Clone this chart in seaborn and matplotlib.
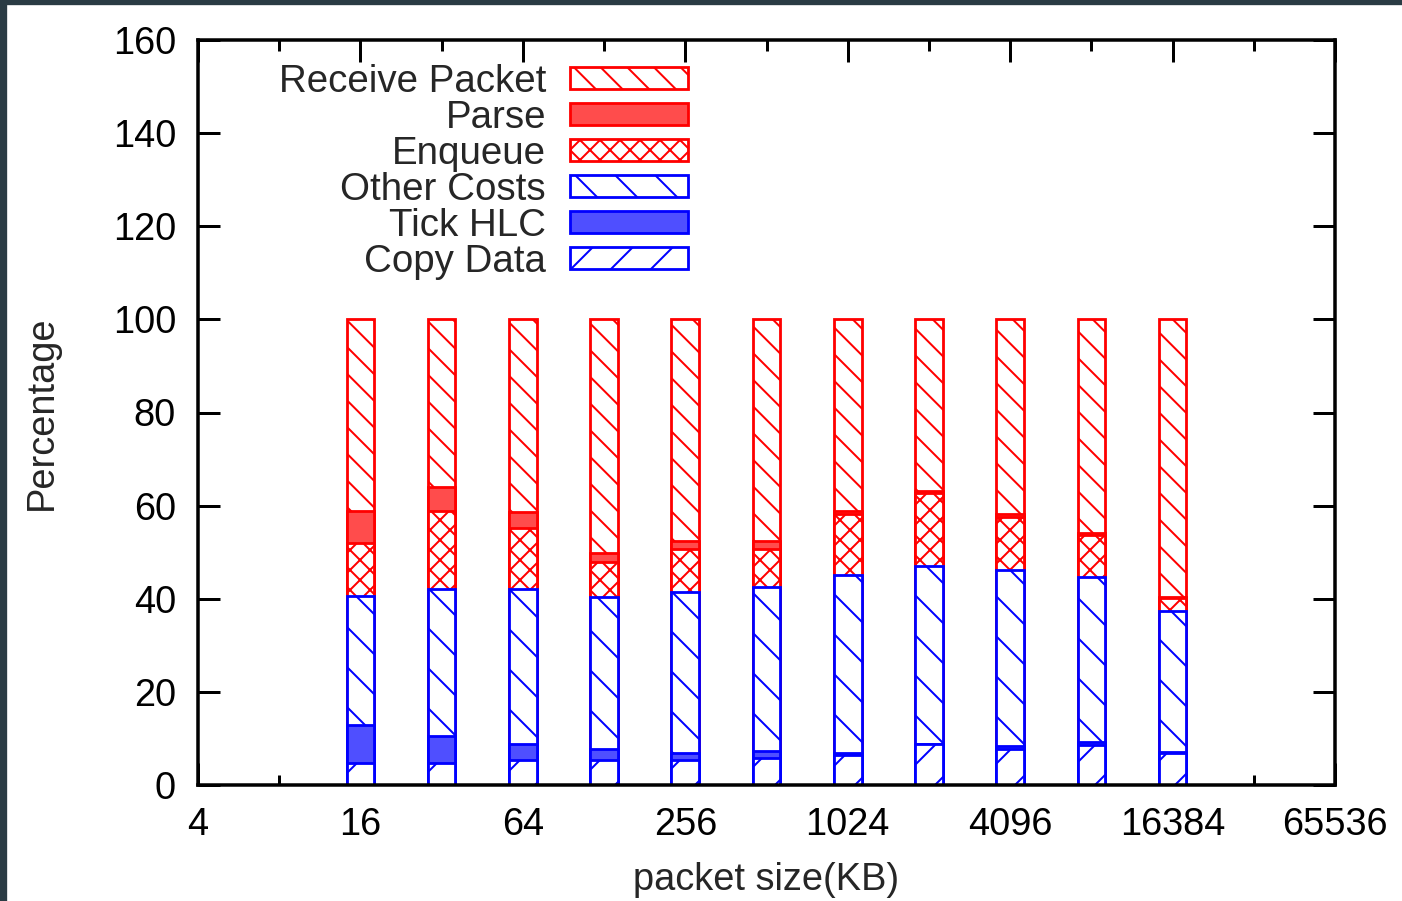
import numpy as np
import pandas as pd
import matplotlib
matplotlib.use("Agg")
import matplotlib.pyplot as plt
from matplotlib.patches import Rectangle
import seaborn as sns

# ---- data (percentages) ----
sizes = [16, 32, 64, 128, 256, 512, 1024, 2048, 4096, 8192, 16384]
copy_data = [4.8, 4.8, 5.4, 5.4, 5.4, 5.9, 6.4, 8.7, 7.7, 8.5, 6.8]
tick_hlc = [8.0, 5.7, 3.3, 2.4, 1.4, 1.5, 0.4, 0.2, 0.7, 0.7, 0.2]
other_costs = [27.8, 31.5, 33.3, 32.5, 34.7, 35.2, 38.4, 38.1, 37.8, 35.5, 30.4]
enqueue = [11.4, 16.9, 13.3, 7.6, 9.2, 8.1, 12.9, 15.8, 11.4, 9.0, 2.7]
parse = [6.9, 5.2, 3.3, 2.0, 1.6, 1.6, 0.8, 0.4, 0.6, 0.4, 0.2]
receive_packet = [41.1, 35.9, 41.4, 50.1, 47.7, 47.7, 41.1, 36.8, 41.8, 45.9, 59.7]

x_major = [4, 16, 64, 256, 1024, 4096, 16384, 65536]
x_minor = [8, 32, 128, 512, 2048, 8192, 32768]
y_ticks = [0, 20, 40, 60, 80, 100, 120, 140, 160]

DPI = 240
W, H = 1402, 901


def pt(px):
    return px * 72.0 / DPI


sns.set_theme(style="ticks")
plt.rcParams["font.family"] = ["Liberation Sans", "DejaVu Sans"]
plt.rcParams["hatch.linewidth"] = pt(2.0)

fig = plt.figure(figsize=(W / DPI, H / DPI), dpi=DPI)
fig.patch.set_facecolor("white")
ax = fig.add_axes([198 / W, 1 - 785 / H, (1335 - 198) / W, (785 - 40) / H])
ax.set_facecolor("white")
ax.set_xscale("log", base=2)

# layers bottom -> top
layers = [
    ("Copy Data", copy_data, "white", "#0000ff", "//"),
    ("Tick HLC", tick_hlc, "#4f4fff", "#0000ff", None),
    ("Other Costs", other_costs, "white", "#0000ff", "\\\\"),
    ("Enqueue", enqueue, "white", "#ff0000", "xxxx"),
    ("Parse", parse, "#ff4c4c", "#ff0000", None),
    ("Receive Packet", receive_packet, "white", "#ff0000", "\\\\\\"),
]
vals = np.array([l[1] for l in layers])
cum = np.cumsum(vals, axis=0)

# draw from the top layer down so each lower layer overlays the taller one
for i in range(len(layers) - 1, -1, -1):
    name, _, fc, ec, hatch = layers[i]
    df = pd.DataFrame({"size": sizes, "top": cum[i]})
    sns.barplot(data=df, x="size", y="top", native_scale=True, ax=ax,
                width=0.34, color=fc, edgecolor=ec, linewidth=pt(2.8),
                saturation=1, errorbar=None, hatch=hatch, label=name)

FS = pt(38)
LFS = pt(38.5)
ax.set_xlim(4, 65536)
ax.set_ylim(0, 160)
ax.set_xticks(x_major, [str(v) for v in x_major])
ax.set_xticks(x_minor, [""] * len(x_minor), minor=True)
ax.set_yticks(y_ticks, [str(v) for v in y_ticks])
ax.tick_params(axis="both", which="both", direction="in", top=True, right=True,
               colors="black", labelsize=FS, width=pt(3))
ax.tick_params(axis="both", which="major", length=pt(22))
ax.tick_params(axis="x", which="major", pad=pt(22))
ax.tick_params(axis="y", which="major", pad=pt(22))
ax.tick_params(axis="x", which="minor", length=pt(10.5))
for s in ax.spines.values():
    s.set_visible(True)
    s.set_color("black")
    s.set_linewidth(pt(3.5))

ax.set_xlabel("packet size(KB)", fontsize=FS, labelpad=pt(19))
ax.set_ylabel("Percentage", fontsize=FS, labelpad=pt(53))

handles, labels = ax.get_legend_handles_labels()
leg = ax.legend(handles, labels, loc="upper right",
                bbox_to_anchor=((688 - 198) / 1137, (785 - 64) / 745),
                frameon=False, markerfirst=False, fontsize=LFS,
                handlelength=118 / 38.5, handleheight=19 / 38.5, handletextpad=24 / 38.5,
                labelspacing=0.0, borderpad=0, borderaxespad=0)

# dark frame of the screenshot
fig.patches.append(Rectangle((0, 0), 5 / W, 1, transform=fig.transFigure,
                             color="#2a3b44", zorder=10))
fig.patches.append(Rectangle((0, 1 - 3 / H), 1, 3 / H, transform=fig.transFigure,
                             color="#2a3b44", zorder=10))

fig.savefig("out.png", dpi=DPI)
